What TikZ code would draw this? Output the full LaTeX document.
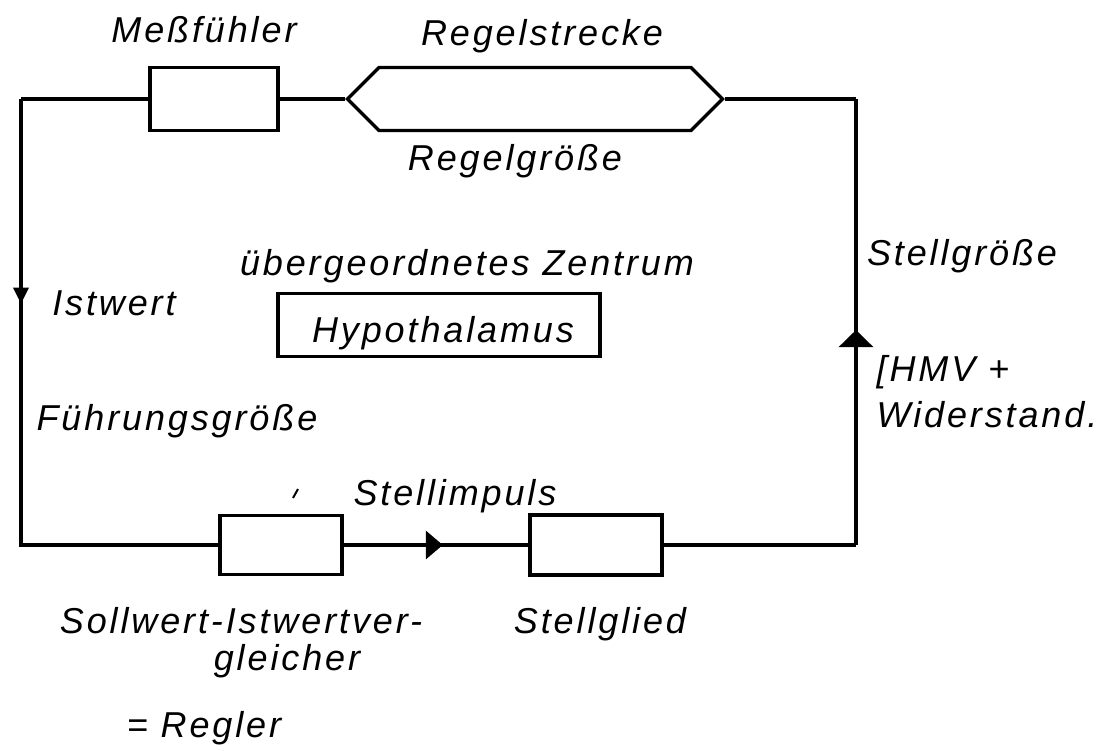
\documentclass[tikz,border=0pt]{standalone}
\usepackage{fontspec}
\newfontfamily\handfont{Liberation Sans}[LetterSpace=8]
\usetikzlibrary{shapes.symbols,arrows.meta,decorations.markings}
\begin{document}
\begin{tikzpicture}[x=1pt,y=-1pt,
  lbl/.style={font=\handfont\itshape\fontsize{36}{40}\selectfont, inner sep=0pt, anchor=base},
  blk/.style={draw, line width=3.2pt, rectangle, inner sep=0pt},
  wire/.style={line width=3.2pt},
  arrowat/.style args={#1/#2/#3}{postaction={decorate},
    decoration={markings, mark=at position #1 with {\arrow{Triangle[length=#2pt,width=#3pt]}}}}]
\useasboundingbox (0,0) rectangle (1117,753);

% blocks
\node[blk, minimum width=128pt, minimum height=63pt] (mess) at (214,99) {};
\node[draw, line width=3.2pt, signal, signal to=west and east, signal pointer angle=90,
      minimum width=375pt, minimum height=63pt, inner sep=0pt] (strecke) at (535,99) {};
\node[blk, minimum width=322pt, minimum height=63pt] (hypo) at (439,325) {};
\node[blk, minimum width=122pt, minimum height=59pt] (sw) at (281,545) {};
\node[blk, minimum width=132pt, minimum height=60pt] (sg) at (596,545) {};

% corners
\coordinate (TL) at (21,99);
\coordinate (BL) at (21,545);
\coordinate (BR) at (856,545);
\coordinate (TR) at (856,99);

% connectors
\draw[wire] (strecke.west) -- (mess.east);
\draw[wire] (mess.west) -- (TL);
\draw[wire, arrowat=0.459/16/15] (TL) -- (BL);
\draw[wire, line cap=rect] (BL) -- (sw.west);
\draw[wire, arrowat=0.537/17/28] (sw.east) -- (sg.west);
\draw[wire] (sg.east) -- (BR);
\draw[wire, arrowat=0.482/17/34] (BR) -- (TR);
\draw[wire] (TR) -- (strecke.east);

% labels
\node[lbl] (tmess) at (204,42) {Meßfühler};
\node[lbl] (tstrecke) at (542,45) {Regelstrecke};
\node[lbl] (tgroesse) at (515,170) {Regelgröße};
\node[lbl] (tzentrum) at (467,275) {übergeordnetes Zentrum};
\node[lbl] (thypo) at (443,342) {Hypothalamus};
\node[lbl] (tist) at (114,315) {Istwert};
\node[lbl] (tfuehr) at (177,430) {Führungsgröße};
\node[lbl] (tstellg) at (962,265) {Stellgröße};
\node[lbl] (thmv) at (943,381) {[HMV +};
\node[lbl] (twid) at (987,427) {Widerstand.};
\node[lbl] (timp) at (455,505) {Stellimpuls};
\node[lbl] (tglied) at (600,633) {Stellglied};
\node[lbl] (tsoll) at (241,633) {Sollwert-Istwertver-};
\node[lbl] (tgleich) at (287,670) {gleicher};
\node[lbl] (tregler) at (204,737) {= Regler};

% stray tick mark
\draw[line width=2pt] (293,498) -- (298,489);
\end{tikzpicture}
\end{document}
